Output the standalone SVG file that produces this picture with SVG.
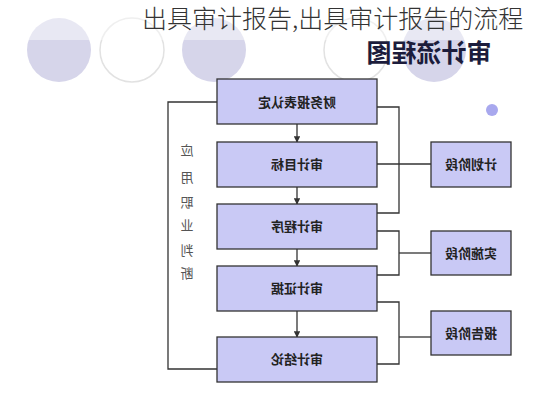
<svg xmlns="http://www.w3.org/2000/svg" width="533" height="400" viewBox="0 0 533 400">
<defs>
<style>
.box{fill:#c9c9f5;stroke:#333;stroke-width:1.3}
.con{fill:none;stroke:#333;stroke-width:1.3}
.bt{font-family:"Noto Sans CJK SC","Noto Sans",sans-serif;font-size:13px;font-weight:bold;fill:#222;text-anchor:middle}
.vt{font-family:"Noto Sans CJK SC",sans-serif;font-size:13px;fill:#555;text-anchor:middle}
.cf{fill:#d6d5ea}
.co{fill:#fff;stroke:#e2e2e2;stroke-width:1.5}
</style>
<marker id="ah" viewBox="0 0 10 10" refX="9" refY="5" markerWidth="5" markerHeight="5" orient="auto">
<path d="M0,0 L10,5 L0,10 z" fill="#333"/>
</marker>
</defs>
<rect width="533" height="400" fill="#fff"/>
<g id="background">
<circle class="cf" cx="59" cy="50" r="32"/>
<circle class="co" cx="132" cy="50" r="32"/>
<circle class="cf" cx="214" cy="50" r="32"/>
<circle class="co" cx="356" cy="50" r="32"/>
<circle class="cf" cx="434" cy="50" r="32"/>
<rect x="0" y="0" width="533" height="40" fill="#fff" opacity="0.45"/>
<circle cx="492" cy="110" r="6" fill="#a8a8ee"/>
</g>
<g id="title">
<text x="142" y="28" font-family="'Noto Sans CJK SC',sans-serif" font-size="25" fill="#333" font-weight="300">出具审计报告,出具审计报告的流程</text>
<text transform="scale(-1,1)" x="-429" y="62" font-family="'Noto Sans CJK SC',sans-serif" font-size="25" font-weight="bold" fill="#1c1c3c" text-anchor="middle">审计流程图</text>
</g>
<g id="connectors">
<polyline class="con" points="217,102 168,102 168,369 217,369"/>
<polyline class="con" points="377,107 399,107 399,213 377,213"/>
<line class="con" x1="377" y1="164" x2="431" y2="164"/>
<polyline class="con" points="377,231 399,231 399,275 377,275"/>
<line class="con" x1="399" y1="253" x2="431" y2="253"/>
<polyline class="con" points="377,302 399,302 399,364 377,364"/>
<line class="con" x1="399" y1="337" x2="431" y2="337"/>
<line class="con" x1="297" y1="124" x2="297" y2="142" marker-end="url(#ah)"/>
<line class="con" x1="297" y1="187" x2="297" y2="204" marker-end="url(#ah)"/>
<line class="con" x1="297" y1="249" x2="297" y2="266" marker-end="url(#ah)"/>
<line class="con" x1="297" y1="311" x2="297" y2="337" marker-end="url(#ah)"/>
</g>
<g id="node-cwbb">
<rect class="box" x="217" y="79" width="160" height="45"/>
<text class="bt" transform="scale(-1,1)" x="-297" y="107">财务报表认定</text>
</g>
<g id="node-sjmb">
<rect class="box" x="217" y="142" width="160" height="45"/>
<text class="bt" transform="scale(-1,1)" x="-297" y="169">审计目标</text>
</g>
<g id="node-sjcx">
<rect class="box" x="217" y="204" width="160" height="45"/>
<text class="bt" transform="scale(-1,1)" x="-297" y="231">审计程序</text>
</g>
<g id="node-sjzj">
<rect class="box" x="217" y="266" width="160" height="45"/>
<text class="bt" transform="scale(-1,1)" x="-297" y="293">审计证据</text>
</g>
<g id="node-sjjl">
<rect class="box" x="217" y="337" width="160" height="45"/>
<text class="bt" transform="scale(-1,1)" x="-297" y="364">审计结论</text>
</g>
<g id="node-jh">
<rect class="box" x="431" y="142" width="80" height="45"/>
<text class="bt" transform="scale(-1,1)" x="-471" y="169">计划阶段</text>
</g>
<g id="node-ss">
<rect class="box" x="431" y="231" width="80" height="44"/>
<text class="bt" transform="scale(-1,1)" x="-471" y="258">实施阶段</text>
</g>
<g id="node-bg">
<rect class="box" x="431" y="311" width="80" height="44"/>
<text class="bt" transform="scale(-1,1)" x="-471" y="338">报告阶段</text>
</g>
<g id="node-zypd">
<text class="vt" transform="scale(-1,1)" x="-187" y="155">应</text>
<text class="vt" transform="scale(-1,1)" x="-187" y="182">用</text>
<text class="vt" transform="scale(-1,1)" x="-187" y="207">职</text>
<text class="vt" transform="scale(-1,1)" x="-187" y="230">业</text>
<text class="vt" transform="scale(-1,1)" x="-187" y="255">判</text>
<text class="vt" transform="scale(-1,1)" x="-187" y="278">断</text>
</g>
</svg>
